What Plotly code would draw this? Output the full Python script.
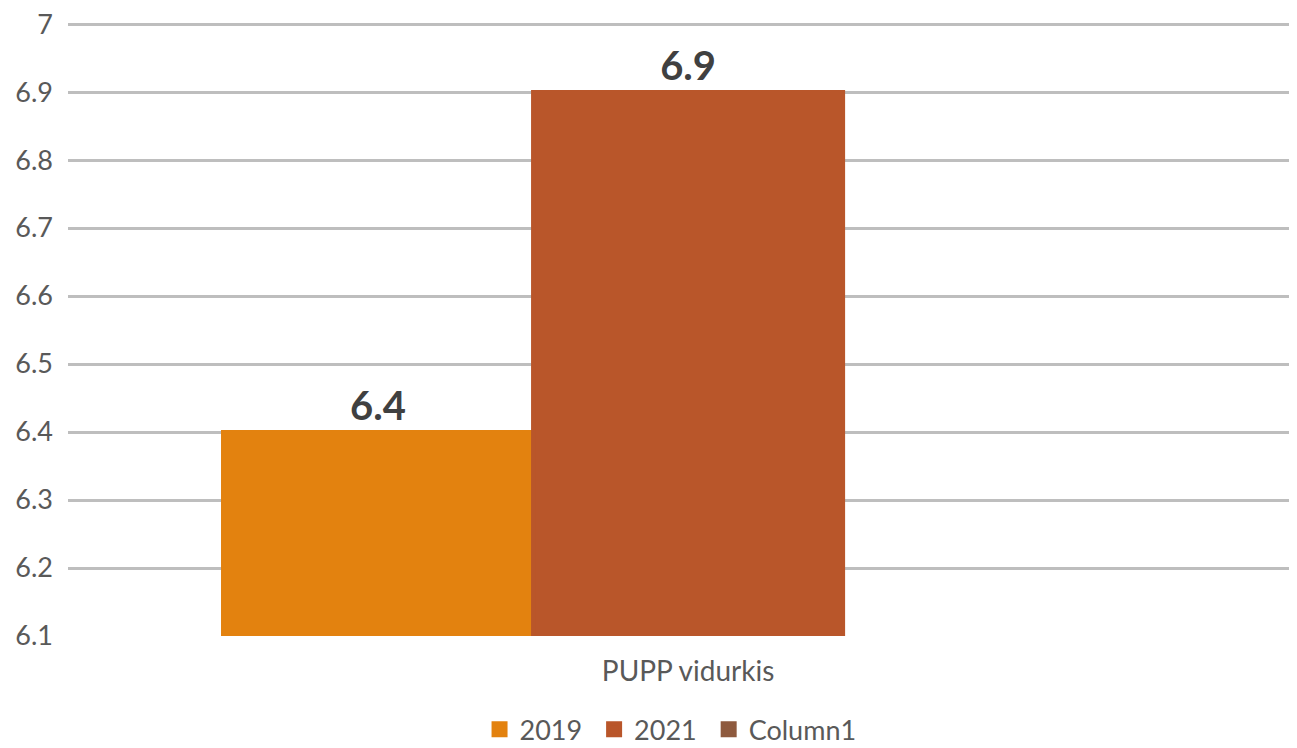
import plotly.graph_objects as go

categories = ["PUPP vidurkis"]
series_names = ["2019", "2021", "Column1"]
legend_pad = ["\u00a0", "\u00a0", ""]
values_2019 = [6.4]
values_2021 = [6.9]
values_column1 = [None]
colors = ["#E3820F", "#B9562A", "#8E5A3E"]
tick_vals = [6.1, 6.2, 6.3, 6.4, 6.5, 6.6, 6.7, 6.8, 6.9, 7.0]
tick_text = ["6.1", "6.2", "6.3", "6.4", "6.5", "6.6", "6.7", "6.8", "6.9", "7"]
y_min, y_max = 6.1, 7.0045

FONT = "Lato, 'Open Sans', sans-serif"

fig = go.Figure()
for name, pad, vals, col in zip(series_names, legend_pad,
                                [values_2019, values_2021, values_column1], colors):
    fig.add_trace(go.Bar(
        name=name + pad, x=categories, y=[(v if v is None else v - y_min) for v in vals],
        base=y_min, marker=dict(color=col, line=dict(width=4, color=col)),
        text=[("" if v is None else f"{v:.1f}") for v in vals],
        textposition="outside", cliponaxis=False,
        textfont=dict(family=FONT, size=40, color="#404040", weight="bold"),
        hoverinfo="skip",
    ))

fig.update_layout(
    width=1289, height=740,
    margin=dict(l=60, r=0, t=13, b=112),
    paper_bgcolor="white", plot_bgcolor="white",
    barmode="group", bargap=0.25, bargroupgap=0,
    font=dict(family=FONT, size=28, color="#595959"),
    showlegend=True,
    legend=dict(orientation="h", x=0.514, xanchor="center",
                xref="container", yref="container", y=0.058, yanchor="top",
                font=dict(family=FONT, size=27, color="#595959"),
                itemwidth=30, traceorder="normal"),
    uniformtext=dict(mode=False),
)
fig.update_xaxes(range=[-0.5, 0.491], showgrid=False, showline=False, ticks="",
                 automargin=False,
                 tickfont=dict(family=FONT, size=28, color="#595959"), ticklabelstandoff=16)
fig.update_yaxes(range=[y_min, y_max], tickvals=tick_vals, ticktext=tick_text,
                 showgrid=True, gridcolor="#BEBEBE", gridwidth=3, zeroline=False,
                 showline=False, ticks="", ticklabelstandoff=14, ticklabeloverflow="allow",
                 automargin=False,
                 tickfont=dict(family=FONT, size=27, color="#595959"))

fig.write_html("out.html")
